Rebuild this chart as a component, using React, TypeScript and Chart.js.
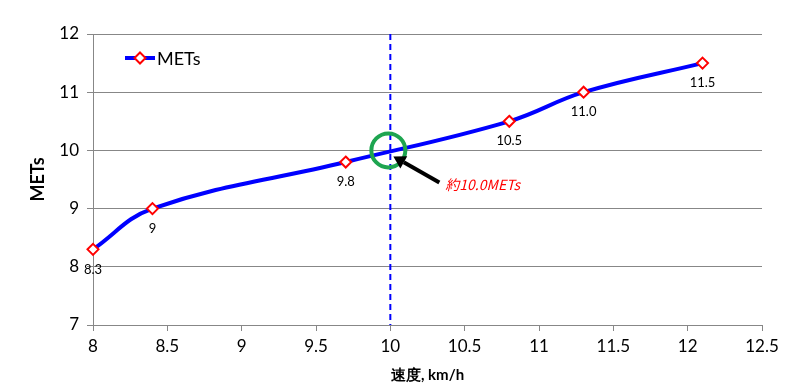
import React, { useEffect, useRef } from "react";
import { Chart, registerables } from "chart.js";

Chart.register(...registerables);

const SPEED = [8, 8.4, 9.7, 10.8, 11.3, 12.1];
const METS = [8.3, 9.0, 9.8, 10.5, 11.0, 11.5];
const POINT_LABELS = ["8.3", "9", "9.8", "10.5", "11.0", "11.5"];
const X_MIN = 8;
const X_MAX = 12.5;
const X_STEP = 0.5;
const Y_MIN = 7;
const Y_MAX = 12;
const Y_STEP = 1;
const SERIES_NAME = "METs";
const X_TITLE = "速度, km/h";
const Y_TITLE = "METs";
const MARK_SPEED = 10;
const MARK_METS = 10;
const NOTE_TEXT = "約10.0METs";

const FONT = "Lato, 'Open Sans', sans-serif";
const BLUE = "#0000ff";
const RED = "#ff0000";
const GRID = "#878787";

function diamond(ctx: CanvasRenderingContext2D, x: number, y: number, r: number) {
  ctx.save();
  ctx.beginPath();
  ctx.moveTo(x, y - r);
  ctx.lineTo(x + r, y);
  ctx.lineTo(x, y + r);
  ctx.lineTo(x - r, y);
  ctx.closePath();
  ctx.fillStyle = "#ffffff";
  ctx.fill();
  ctx.lineWidth = 2;
  ctx.strokeStyle = RED;
  ctx.stroke();
  ctx.restore();
}

const annotationPlugin = {
  id: "annotations",
  beforeDatasetsDraw(chart: any) {
    const { ctx, chartArea, scales } = chart;
    const x = scales.x.getPixelForValue(MARK_SPEED);
    ctx.save();
    ctx.strokeStyle = BLUE;
    ctx.lineWidth = 2;
    ctx.setLineDash([6, 4]);
    ctx.beginPath();
    ctx.moveTo(x, chartArea.top);
    ctx.lineTo(x, chartArea.bottom);
    ctx.stroke();
    ctx.restore();
  },
  afterDatasetsDraw(chart: any) {
    const { ctx, scales } = chart;
    const meta = chart.getDatasetMeta(0);
    meta.data.forEach((pt: any) => diamond(ctx, pt.x, pt.y, 5.5));
    ctx.save();
    ctx.font = `13px ${FONT}`;
    ctx.fillStyle = "#000";
    ctx.textAlign = "center";
    ctx.textBaseline = "middle";
    meta.data.forEach((pt: any, i: number) => {
      ctx.fillText(POINT_LABELS[i], pt.x, pt.y + 20);
    });
    ctx.restore();

    const cx = scales.x.getPixelForValue(MARK_SPEED) - 2;
    const cy = scales.y.getPixelForValue(MARK_METS);
    ctx.save();
    ctx.strokeStyle = "#1ea550";
    ctx.lineWidth = 4;
    ctx.beginPath();
    ctx.arc(cx, cy, 17, 0, Math.PI * 2);
    ctx.stroke();

    const tipX = cx + 5;
    const tipY = cy + 6;
    const tailX = cx + 51;
    const tailY = cy + 32;
    const ang = Math.atan2(tipY - tailY, tipX - tailX);
    const headLen = 12;
    const headW = 7;
    const baseX = tipX - headLen * Math.cos(ang);
    const baseY = tipY - headLen * Math.sin(ang);
    ctx.strokeStyle = "#000";
    ctx.fillStyle = "#000";
    ctx.lineWidth = 4;
    ctx.beginPath();
    ctx.moveTo(tailX, tailY);
    ctx.lineTo(baseX, baseY);
    ctx.stroke();
    ctx.beginPath();
    ctx.moveTo(tipX, tipY);
    ctx.lineTo(baseX + headW * Math.sin(ang), baseY - headW * Math.cos(ang));
    ctx.lineTo(baseX - headW * Math.sin(ang), baseY + headW * Math.cos(ang));
    ctx.closePath();
    ctx.fill();

    ctx.font = `italic 14px 'Noto Sans CJK JP', sans-serif`;
    ctx.fillStyle = RED;
    ctx.textAlign = "left";
    ctx.textBaseline = "middle";
    ctx.fillText(NOTE_TEXT, tailX + 6, tailY + 2);
    ctx.restore();

    const lx = scales.x.getPixelForValue(X_MIN) + 32;
    const ly = scales.y.getPixelForValue(Y_MAX) + 24;
    ctx.save();
    ctx.strokeStyle = BLUE;
    ctx.lineWidth = 4;
    ctx.beginPath();
    ctx.moveTo(lx, ly);
    ctx.lineTo(lx + 30, ly);
    ctx.stroke();
    ctx.restore();
    diamond(ctx, lx + 15, ly, 5.5);
    ctx.save();
    ctx.font = `18px ${FONT}`;
    ctx.fillStyle = "#000";
    ctx.textAlign = "left";
    ctx.textBaseline = "middle";
    ctx.fillText(SERIES_NAME, lx + 32, ly + 1);
    ctx.restore();
  },
};

export default function App() {
  const canvasRef = useRef<HTMLCanvasElement | null>(null);

  useEffect(() => {
    if (!canvasRef.current) return;
    const chart = new Chart(canvasRef.current, {
      type: "line",
      data: {
        datasets: [
          {
            label: SERIES_NAME,
            data: SPEED.map((s, i) => ({ x: s, y: METS[i] })),
            borderColor: BLUE,
            borderWidth: 4,
            tension: 0.4,
            pointRadius: 0,
            pointHoverRadius: 0,
            fill: false,
            clip: false as any,
          },
        ],
      },
      options: {
        animation: false,
        responsive: true,
        maintainAspectRatio: false,
        events: [],
        layout: { padding: { left: 0, top: 34, right: 38, bottom: 0 } },
        plugins: {
          legend: { display: false },
          tooltip: { enabled: false },
        },
        scales: {
          x: {
            type: "linear",
            min: X_MIN,
            max: X_MAX,
            ticks: {
              stepSize: X_STEP,
              color: "#000",
              font: { family: FONT, size: 17 },
              padding: 5,
              maxRotation: 0,
              callback: (v: any) => String(Number(v)),
            },
            grid: {
              drawOnChartArea: false,
              drawTicks: true,
              tickLength: 6,
              color: GRID,
            },
            border: { color: GRID, width: 1 },
            title: {
              display: true,
              text: X_TITLE,
              color: "#000",
              font: { family: FONT, size: 15, weight: "bold" },
              padding: { top: 4, bottom: 4 },
            },
            afterFit(scale: any) {
              scale.height = 63;
            },
          },
          y: {
            type: "linear",
            min: Y_MIN,
            max: Y_MAX,
            ticks: {
              stepSize: Y_STEP,
              color: "#000",
              font: { family: FONT, size: 17 },
              padding: 8,
              callback: (v: any) => String(Number(v)),
            },
            grid: {
              color: GRID,
              tickLength: 6,
            },
            border: { color: GRID, width: 1 },
            title: {
              display: true,
              text: Y_TITLE,
              color: "#000",
              font: { family: FONT, size: 18, weight: "bold" },
              padding: { top: 27, bottom: 4 },
            },
            afterFit(scale: any) {
              scale.width = 93;
            },
          },
        },
      },
      plugins: [annotationPlugin],
    });
    return () => chart.destroy();
  }, []);

  return (
    <div style={{ position: "absolute", left: 0, top: 0, width: 800, height: 388, background: "#fff" }}>
      <canvas ref={canvasRef} />
    </div>
  );
}
